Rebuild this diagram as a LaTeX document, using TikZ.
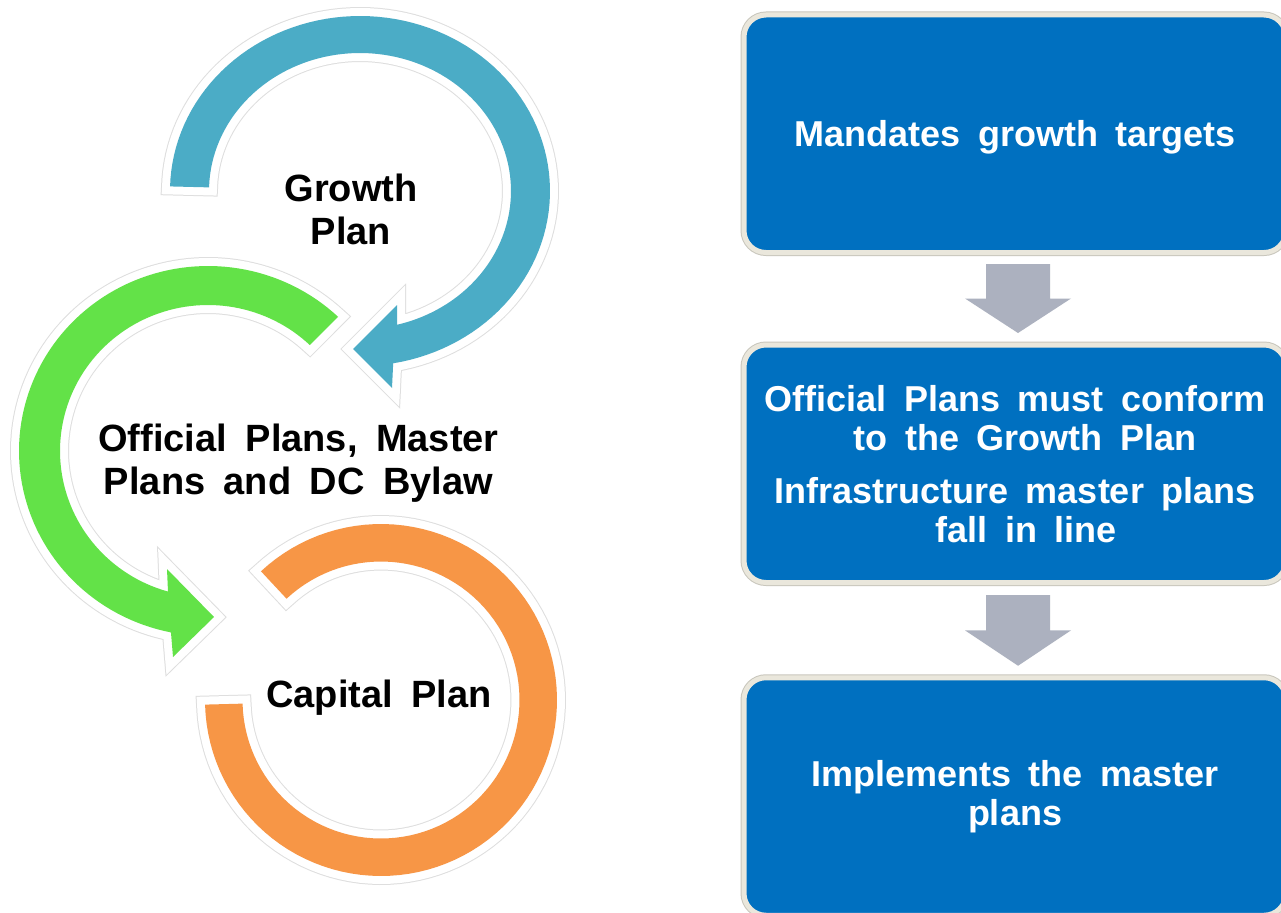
\documentclass[tikz,border=0pt]{standalone}
\usepackage{fontspec}
\setmainfont{Liberation Sans}[WordSpace=1.75]
\usetikzlibrary{calc}
\definecolor{ringblue}{RGB}{75,172,198}
\definecolor{ringgreen}{RGB}{99,226,72}
\definecolor{ringorange}{RGB}{247,150,70}
\definecolor{boxblue}{RGB}{0,112,192}
\definecolor{boxrim}{RGB}{234,231,220}
\definecolor{rimgray}{RGB}{200,198,188}
\definecolor{arrowgray}{RGB}{172,177,191}
\definecolor{glowgray}{RGB}{222,222,222}
\newcommand\lblfont{\fontsize{38}{43}\selectfont\bfseries}
\newcommand\boxfont{\fontsize{36}{39}\selectfont\bfseries}
\begin{document}
\begin{tikzpicture}[x=1pt,y=-1pt,
  ring/.style={fill=#1, line join=miter, miter limit=10,
    preaction={draw=glowgray, line width=18pt, line join=miter},
    preaction={draw=white, line width=16pt, line join=miter}},
  box/.style={draw=boxrim, line width=5pt, fill=boxblue, rounded corners=22pt,
    minimum width=542pt, minimum height=237.5pt, inner sep=0pt, outer sep=0pt,
    text=white, align=center, font=\boxfont,
    preaction={draw=rimgray, line width=7pt}},
  lbl/.style={font=\lblfont, align=center, inner sep=0pt, text=black},
  blockarrow/.style={fill=arrowgray}]
\useasboundingbox (0,0) rectangle (1281,912);
\fill[white] (0,0) rectangle (1281,912);

% orange ring (no head)
\path[ring=ringorange]
  plot[domain=-133:178.5, samples=100] ({381+176*cos(\x)},{700+176*sin(\x)})
  -- plot[domain=178.5:-133, samples=100] ({381+138.5*cos(\x)},{700+138.5*sin(\x)})
  -- cycle;

% green circular arrow
\path[ring=ringgreen]
  plot[domain=-46.5:-258.7, samples=100] ({208+189*cos(\x)},{451+185*sin(\x)})
  -- (173,657) -- (214,617) -- (167,569) -- (168,592)
  -- plot[domain=-254.3:-46.5, samples=100] ({208+148*cos(\x)},{451+146*sin(\x)})
  -- cycle;

% blue circular arrow
\path[ring=ringblue]
  plot[domain=181.5:440, samples=100] ({360+190*cos(\x)},{191+175*sin(\x)})
  -- (393,367) -- (392,388) -- (353,349) -- (397,305) -- (397,325)
  -- plot[domain=435.8:181.5, samples=100] ({360+151*cos(\x)},{191+138*sin(\x)})
  -- cycle;

% labels of the cycle
\node[lbl] (gp) at (351,209.5) {Growth\\Plan};
\node[lbl] (op) at (298.5,463.5) {Official Plans, Master\\Plans and DC Bylaw};
\node[lbl, anchor=base] (cp) at (379,707) {Capital Plan};

% right-hand boxes
\node[box, text depth=0pt] (b1) at (1015,133.75) {Mandates growth targets};
\node[box] (b2) at (1015,463.75) {Official Plans must conform\\\hspace*{20pt}to the Growth Plan\\[14pt]Infrastructure master plans\\\hspace*{22pt}fall in line};
\node[box] (b3) at (1015,796.5) {Implements the master\\plans};

% block arrows between boxes
\coordinate (a1) at ($(b1.south)+(3,11.5)$);
\coordinate (t1) at ($(b2.north)+(3,-12)$);
\coordinate (a2) at ($(b2.south)+(3,12.5)$);
\coordinate (t2) at ($(b3.north)+(3,-12)$);
\fill[blockarrow] ($(a1)+(-32,0)$) -- ($(a1)+(32,0)$) -- ($(a1)!0.5!(t1)+(32,0)$)
  -- ($(a1)!0.5!(t1)+(53,0)$) -- (t1) -- ($(a1)!0.5!(t1)+(-53,0)$)
  -- ($(a1)!0.5!(t1)+(-32,0)$) -- cycle;
\fill[blockarrow] ($(a2)+(-32,0)$) -- ($(a2)+(32,0)$) -- ($(a2)!0.5!(t2)+(32,0)$)
  -- ($(a2)!0.5!(t2)+(53,0)$) -- (t2) -- ($(a2)!0.5!(t2)+(-53,0)$)
  -- ($(a2)!0.5!(t2)+(-32,0)$) -- cycle;
\end{tikzpicture}
\end{document}
